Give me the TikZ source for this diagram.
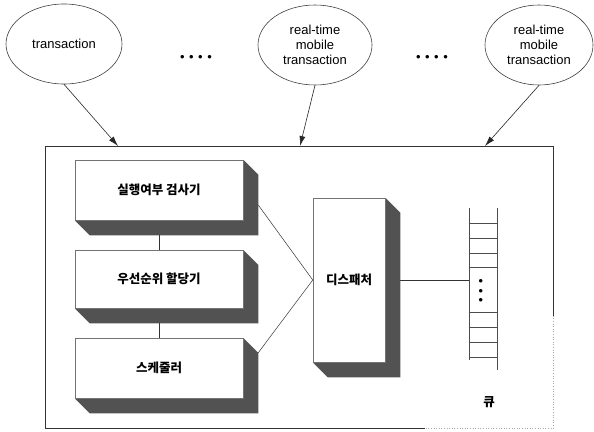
\documentclass[tikz,border=0pt]{standalone}
\usepackage{fontspec}
\setmainfont{Liberation Sans}
\newfontfamily\kr{Noto Sans CJK KR}
\usetikzlibrary{shapes.geometric,arrows.meta,calc,backgrounds}
\begin{document}
\begin{tikzpicture}[x=1pt,y=-1pt,
  tx/.style={ellipse,draw=black!75,line width=0.6pt,align=center,font=\fontsize{13}{15}\selectfont,inner sep=0pt},
  blk/.style={rectangle,draw=black!55,line width=0.5pt,fill=white,font=\kr\bfseries\fontsize{12.5}{15}\selectfont,inner sep=0pt},
  shd/.style={fill=black!68},
  arr/.style={-{Latex[length=10pt,width=6pt]},line width=0.6pt,black!85},
  con/.style={line width=0.5pt,black!80},
  frame/.style={line width=0.6pt,black!80},
  qline/.style={line width=0.5pt,black!70},
  dots/.style={inner sep=0pt,font=\fontsize{13}{15}\selectfont}]
\useasboundingbox (0,0) rectangle (594,431);
% ellipses
\node[tx,minimum width=116,minimum height=80] (e1) at (64,44) {transaction};
\node[tx,minimum width=114,minimum height=80] (e2) at (315,45) {real-time\\mobile\\transaction};
\node[tx,minimum width=108,minimum height=80] (e3) at (539,45) {real-time\\mobile\\transaction};
\node[dots] (d1) at (196,58) {•\hspace{4.5pt}•\hspace{4.5pt}•\hspace{4.5pt}•};
\node[dots] (d2) at (432,58) {•\hspace{4.5pt}•\hspace{4.5pt}•\hspace{4.5pt}•};
% system frame
\node[minimum width=508,minimum height=282,inner sep=0pt] (sys) at (299,287) {};
\draw[frame] ($(sys.north east)+(0,170)$) -- (sys.north east) -- (sys.north west) -- (sys.south west) -- ($(sys.south west)+(380,0)$);
\draw[frame,dotted,black!35] ($(sys.north east)+(0,170)$) -- (sys.south east) -- ($(sys.south west)+(380,0)$);
\coordinate (c1) at (118,146);
\coordinate (c2) at (300,146);
\coordinate (c3) at (485,146);
\draw[arr] (e1.south) -- (c1);
\draw[arr] (e2.south) -- (c2);
\draw[arr] (e3.south) -- (c3);
% blocks
\node[blk,minimum width=168,minimum height=60] (b1) at (159,190) {실행여부 검사기};
\node[blk,minimum width=168,minimum height=58] (b2) at (159,279) {우선순위 할당기};
\node[blk,minimum width=168,minimum height=60] (b3) at (159,368) {스케줄러};
\node[blk,minimum width=72,minimum height=164] (dp) at (349,280) {디스패처};
% queue
\node[minimum width=28,minimum height=152,inner sep=0pt] (q) at (483,284) {};
\draw[qline] (q.north west) -- (q.south west);
\draw[qline] (q.north east) -- ($(q.south east)+(0,10)$);
\foreach \o in {15,30,45,59,104,119,134,149}
  \draw[qline] ($(q.north west)+(0,\o)$) -- ($(q.north east)+(0,\o)$);
\node[dots,rotate=90] (qd) at (482,291) {•\hspace{5pt}•\hspace{5pt}•};
\node[font=\kr\bfseries\fontsize{12.5}{15}\selectfont,inner sep=0pt] (ql) at (489,402) {큐};
\begin{scope}[on background layer]
  \draw[con] (b1.south) -- (b2.north);
  \draw[con] (b2.south) -- (b3.north);
  \draw[con] ($(b1.east)+(15,15)$) -- (dp.west);
  \draw[con] ($(b3.north east)+(15,15)$) -- (dp.west);
  \draw[con] (dp.east) -- (dp.east -| q.west);
  \foreach \n in {b1,b2,b3,dp}
    \fill[shd] (\n.north east) -- ++(15,15) -- ($(\n.south east)+(15,15)$) -- ($(\n.south west)+(15,15)$) -- (\n.south west) -- (\n.south east) -- cycle;
\end{scope}
\end{tikzpicture}
\end{document}
